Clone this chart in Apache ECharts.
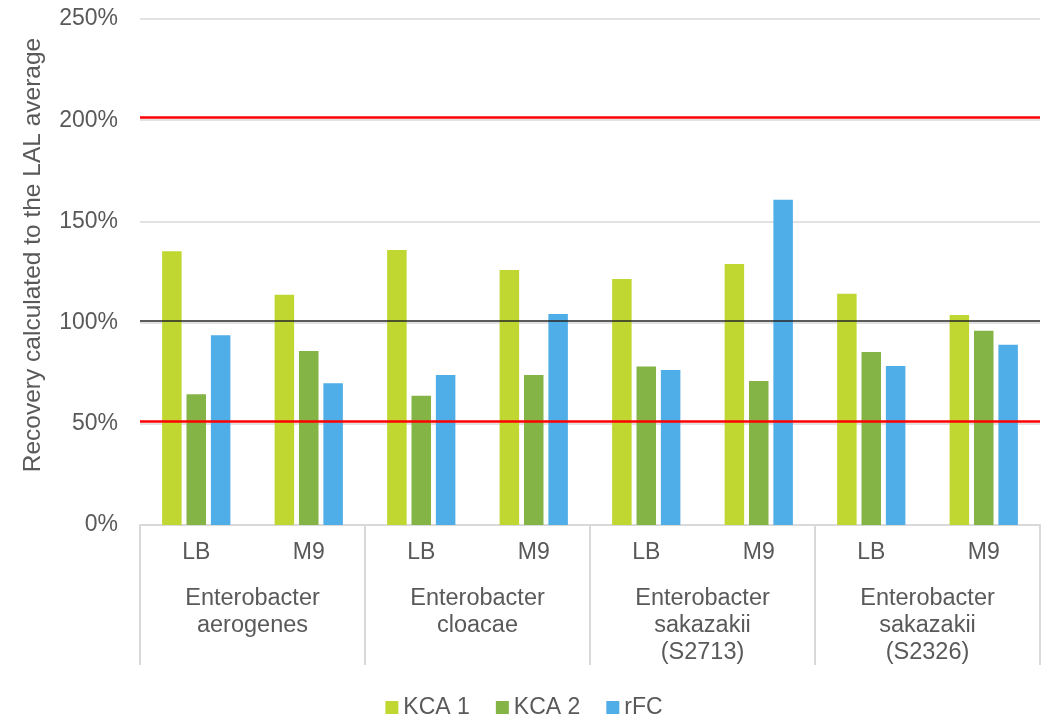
<!DOCTYPE html>
<html>
<head>
<meta charset="utf-8">
<script src="https://cdn.jsdelivr.net/npm/echarts@6/dist/echarts.min.js"></script>
<style>
  html, body { margin: 0; padding: 0; background: #fff; }
  #chart { width: 1048px; height: 714px; }
</style>
</head>
<body>
<div id="chart"></div>
<script>
// media per strain
const media = ['LB', 'M9', 'LB', 'M9', 'LB', 'M9', 'LB', 'M9'];
const strains = [
  'Enterobacter\naerogenes',
  'Enterobacter\ncloacae',
  'Enterobacter\nsakazakii\n(S2713)',
  'Enterobacter\nsakazakii\n(S2326)'
];
const seriesNames = ['KCA 1', 'KCA 2', 'rFC'];
const kca1 = [135.3, 113.7, 135.9, 126.0, 121.6, 128.9, 114.2, 103.8];
const kca2 = [64.6, 86.0, 63.9, 74.1, 78.3, 71.2, 85.5, 96.0];
const rfc = [93.8, 70.0, 74.1, 104.2, 76.6, 160.7, 78.6, 89.1];
const yTicks = [0, 50, 100, 150, 200, 250];
// acceptance limits (red) and LAL reference (black)
const limitLines = [201.5, 51.5];
const refLine = 100.7;

const colors = ['#c0d732', '#84b446', '#4fade8'];
const textColor = '#595959';
const gridColor = '#d9d9d9';
const font = 'Liberation Sans, Arial, sans-serif';

const chart = echarts.init(document.getElementById('chart'));

const values = [kca1, kca2, rfc];
const series = values.map((data, i) => {
  const s = {
    name: seriesNames[i],
    type: 'bar',
    xAxisIndex: 0,
    data: data,
    barWidth: 19.5,
    barGap: '25%',
    itemStyle: { color: colors[i] },
    animation: false
  };
  if (i === 0) {
    s.markLine = {
      silent: true,
      symbol: 'none',
      label: { show: false },
      animation: false,
      data: limitLines.map(v => ({
        yAxis: v,
        lineStyle: { color: '#ff0000', width: 2.5, type: 'solid' }
      })).concat([{
        yAxis: refLine,
        lineStyle: { color: '#262626', width: 1.5, type: 'solid' }
      }])
    };
  }
  return s;
});

chart.setOption({
  animation: false,
  textStyle: { fontFamily: font },
  grid: { left: 140, right: 8, top: 19, bottom: 189 },
  legend: {
    data: seriesNames,
    top: 691,
    left: 'center',
    icon: 'rect',
    itemWidth: 13,
    itemHeight: 13,
    itemGap: 26,
    textStyle: { fontSize: 23, color: textColor, fontFamily: font }
  },
  xAxis: [
    {
      type: 'category',
      data: media,
      position: 'bottom',
      axisLine: { show: true, lineStyle: { color: gridColor, width: 2 } },
      axisTick: { show: false },
      axisLabel: { fontSize: 23, color: textColor, margin: 16, fontFamily: font }
    },
    {
      type: 'category',
      data: strains,
      position: 'bottom',
      offset: 0,
      axisLine: { show: false },
      axisTick: { show: true, length: 140, lineStyle: { color: gridColor, width: 2 } },
      axisLabel: {
        fontSize: 23.5,
        lineHeight: 27,
        color: textColor,
        margin: 60,
        verticalAlign: 'top',
        fontFamily: font
      },
      splitLine: { show: false }
    }
  ],
  yAxis: {
    type: 'value',
    min: yTicks[0],
    max: yTicks[yTicks.length - 1],
    interval: 50,
    name: 'Recovery calculated to the LAL average',
    nameLocation: 'middle',
    nameGap: 94,
    nameTextStyle: { fontSize: 24.5, color: textColor, fontFamily: font, padding: [0, 0, 0, 34] },
    axisLine: { show: false },
    axisTick: { show: false },
    axisLabel: { formatter: '{value}%', fontSize: 23, color: textColor, margin: 22, fontFamily: font },
    splitLine: { lineStyle: { color: gridColor, width: 1.5 } }
  },
  series: series
});
</script>
</body>
</html>
